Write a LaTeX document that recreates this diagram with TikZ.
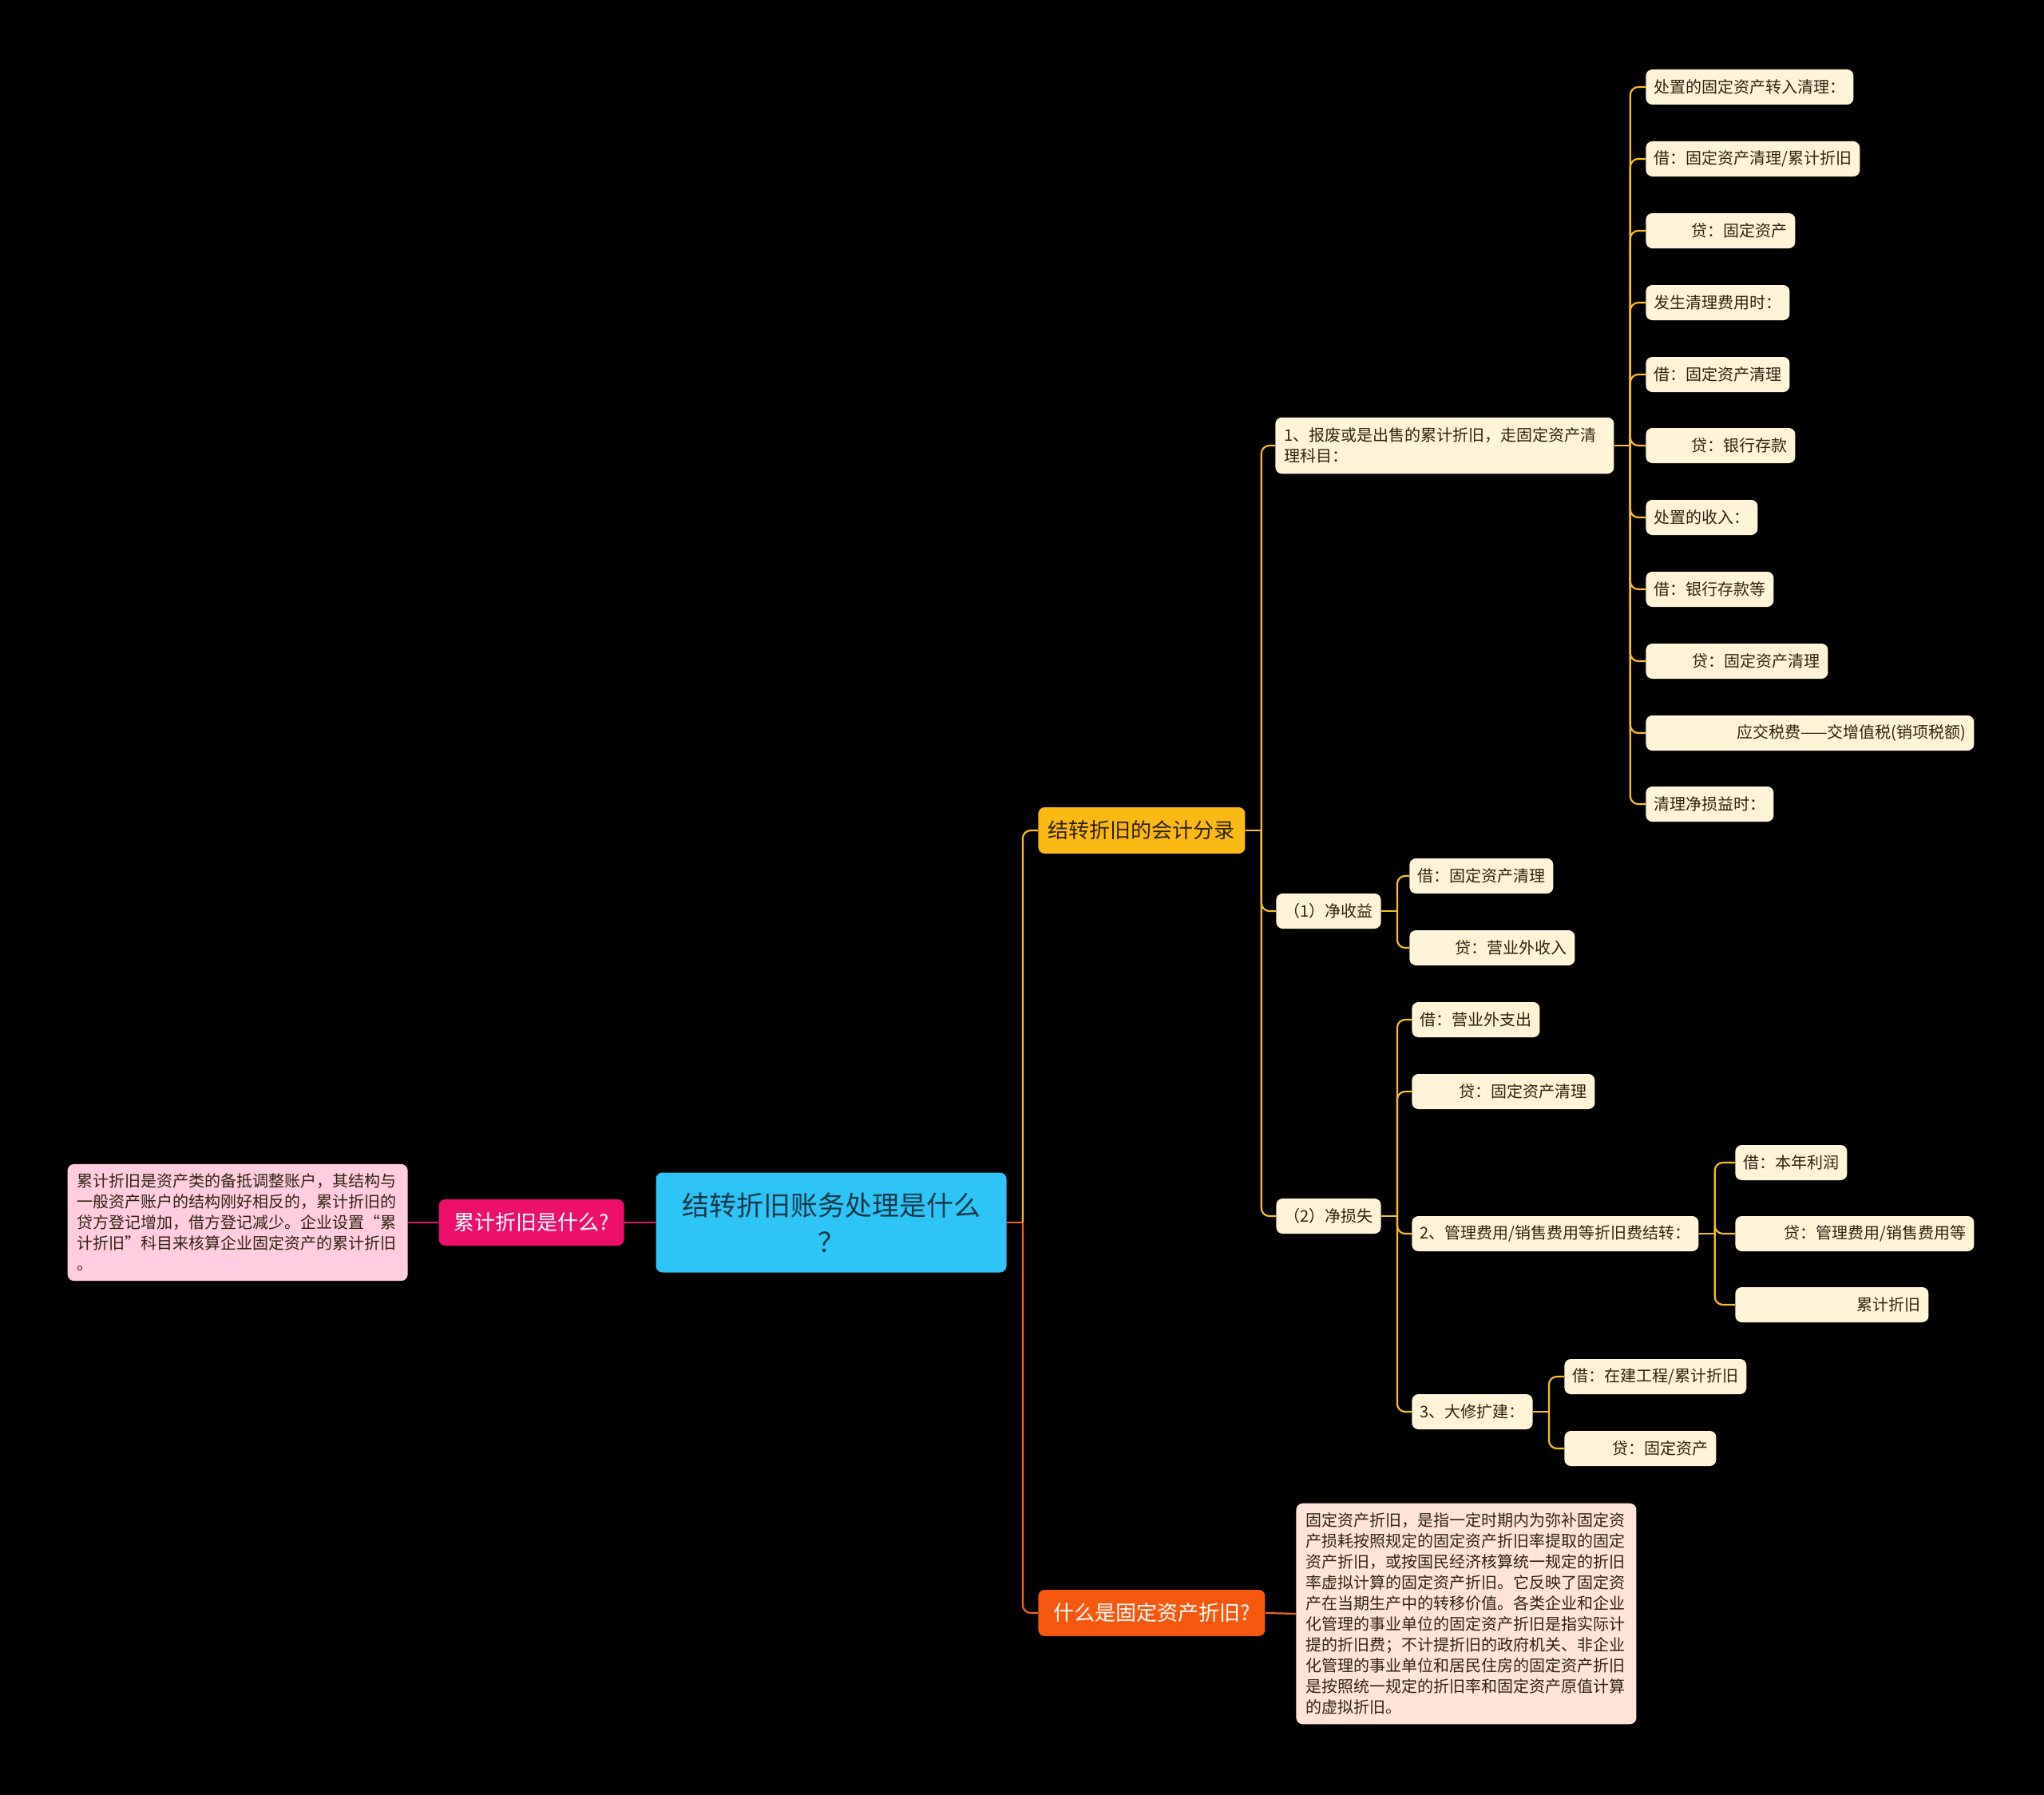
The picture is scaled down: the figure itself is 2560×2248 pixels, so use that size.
\documentclass[tikz,border=0pt]{standalone}
\usepackage{fontspec}
\setmainfont{Noto Sans CJK SC}
\usepackage{tikz}
\usetikzlibrary{positioning}
\definecolor{rootcyan}{RGB}{46,196,245}
\definecolor{rootink}{RGB}{24,57,74}
\definecolor{topicyellow}{RGB}{251,186,19}
\definecolor{topicorange}{RGB}{246,88,15}
\definecolor{topicmagenta}{RGB}{236,16,107}
\definecolor{leafcream}{RGB}{254,244,216}
\definecolor{notepink}{RGB}{255,204,224}
\definecolor{notepeach}{RGB}{254,228,216}
\definecolor{leafink}{RGB}{46,36,16}
\definecolor{lineyellow}{RGB}{246,192,38}
\definecolor{lineorange}{RGB}{240,102,31}
\definecolor{linepink}{RGB}{228,20,104}

\begin{document}
\begin{tikzpicture}[x=0.5pt, y=-0.5pt,
    every node/.style={inner ysep=2pt, rounded corners=4pt},
    rootbox/.style={fill=rootcyan, text=rootink, font=\fontsize{17pt}{23pt}\selectfont, align=center, minimum width=219.5pt, minimum height=62.5pt},
    topic/.style={font=\fontsize{13pt}{16pt}\selectfont, minimum height=29pt, inner xsep=6pt},
    leaf/.style={fill=leafcream, text=leafink, font=\fontsize{10pt}{13pt}\selectfont, minimum height=22pt, inner xsep=5pt, anchor=west},
    rleaf/.style={leaf, align=right, text width=#1},
    note/.style={text=leafink, font=\fontsize{10pt}{13pt}\selectfont, align=left, text width=201pt, inner xsep=6pt, inner ysep=6pt},
    ylink/.style={draw=lineyellow, line width=1.1pt, rounded corners=5pt},
    olink/.style={ylink, draw=lineorange},
    plink/.style={ylink, draw=linepink}]
    \useasboundingbox (0,0) rectangle (2560,2248);
    \fill[black] (0,0) rectangle (2560,2248);

    % Centre and main topics
    \node[rootbox] (root) at (1041,1531) {结转折旧账务处理是什么\\？};
    \node[topic, fill=topicmagenta, text=white, minimum width=116pt, anchor=east] (whatacc) at (782,1531) {累计折旧是什么?};
    \node[note, fill=notepink, anchor=east] (accnote) at (511,1531) {
        累计折旧是资产类的备抵调整账户，其结构与\\
        一般资产账户的结构刚好相反的，累计折旧的\\
        贷方登记增加，借方登记减少。企业设置“累\\
        计折旧”科目来核算企业固定资产的累计折旧\\
        。};
    \node[topic, fill=topicyellow, text=leafink, minimum width=129.5pt, anchor=west] (entries) at (1300,1040) {结转折旧的会计分录};
    \node[topic, fill=topicorange, text=white, minimum width=142pt, anchor=west] (whatfix) at (1300,2020) {什么是固定资产折旧?};
    \node[note, fill=notepeach, anchor=west] (fixnote) at (1623,2021) {
        固定资产折旧，是指一定时期内为弥补固定资\\
        产损耗按照规定的固定资产折旧率提取的固定\\
        资产折旧，或按国民经济核算统一规定的折旧\\
        率虚拟计算的固定资产折旧。它反映了固定资\\
        产在当期生产中的转移价值。各类企业和企业\\
        化管理的事业单位的固定资产折旧是指实际计\\
        提的折旧费；不计提折旧的政府机关、非企业\\
        化管理的事业单位和居民住房的固定资产折旧\\
        是按照统一规定的折旧率和固定资产原值计算\\
        的虚拟折旧。};

    % Entries
    \node[leaf, align=left, text width=201pt, inner xsep=5.5pt, inner ysep=6.5pt] (scrap) at (1597,558) {1、报废或是出售的累计折旧，走固定资产清\\理科目：};
    \node[leaf] (gain) at (1598,1141) {（1）净收益};
    \node[leaf] (loss) at (1598,1523) {（2）净损失};

    \node[leaf] (s1) at (2061,109) {处置的固定资产转入清理：};
    \node[leaf] (s2) at (2061,199) {借：固定资产清理/累计折旧};
    \node[rleaf=83.5pt] (s3) at (2061,289) {贷：固定资产};
    \node[leaf] (s4) at (2061,379) {发生清理费用时：};
    \node[leaf] (s5) at (2061,469) {借：固定资产清理};
    \node[rleaf=83.5pt] (s6) at (2061,558) {贷：银行存款};
    \node[leaf] (s7) at (2061,648) {处置的收入：};
    \node[leaf] (s8) at (2061,738) {借：银行存款等};
    \node[rleaf=104pt] (s9) at (2061,828) {贷：固定资产清理};
    \node[rleaf=195.5pt] (s10) at (2061,918) {应交税费——交增值税(销项税额)};
    \node[leaf] (s11) at (2061,1007) {清理净损益时：};

    \node[leaf] (g1) at (1765,1097) {借：固定资产清理};
    \node[rleaf=93.5pt] (g2) at (1765,1187) {贷：营业外收入};

    \node[leaf] (l1) at (1768,1277) {借：营业外支出};
    \node[rleaf=104.5pt] (l2) at (1768,1367) {贷：固定资产清理};
    \node[leaf] (l3) at (1768,1545) {2、管理费用/销售费用等折旧费结转：};
    \node[leaf] (l4) at (1768,1768) {3、大修扩建：};

    \node[leaf] (m1) at (2173,1456) {借：本年利润};
    \node[rleaf=139.5pt] (m2) at (2173,1545) {贷：管理费用/销售费用等};
    \node[rleaf=111pt] (m3) at (2173,1634) {累计折旧};

    \node[leaf] (r1) at (1959,1724) {借：在建工程/累计折旧};
    \node[rleaf=85pt] (r2) at (1959,1814) {贷：固定资产};

    % Links
    \coordinate (jroot) at ([xshift=10pt]root.east);
    \draw[olink] (root.east) -- (jroot);
    \draw[ylink] (jroot) |- (entries.west);
    \draw[olink] (jroot) |- (whatfix.west);
    \draw[plink] (root.west) -- (whatacc.east);
    \draw[plink] (whatacc.west) -- (accnote.east);
    \draw[olink] (whatfix.east) -- (fixnote.west);

    \coordinate (jentries) at ([xshift=10pt]entries.east);
    \draw[ylink] (entries.east) -- (jentries);
    \foreach \c in {scrap,gain,loss} \draw[ylink] (jentries) |- (\c.west);

    \coordinate (jscrap) at ([xshift=10pt]scrap.east);
    \draw[ylink] (scrap.east) -- (jscrap);
    \foreach \c in {s1,s2,s3,s4,s5,s6,s7,s8,s9,s10,s11} \draw[ylink] (jscrap) |- (\c.west);

    \coordinate (jgain) at ([xshift=10pt]gain.east);
    \draw[ylink] (gain.east) -- (jgain);
    \foreach \c in {g1,g2} \draw[ylink] (jgain) |- (\c.west);

    \coordinate (jloss) at ([xshift=10pt]loss.east);
    \draw[ylink] (loss.east) -- (jloss);
    \foreach \c in {l1,l2,l3,l4} \draw[ylink] (jloss) |- (\c.west);

    \coordinate (jsum) at ([xshift=10pt]l3.east);
    \draw[ylink] (l3.east) -- (jsum);
    \foreach \c in {m1,m2,m3} \draw[ylink] (jsum) |- (\c.west);

    \coordinate (jrepair) at ([xshift=10pt]l4.east);
    \draw[ylink] (l4.east) -- (jrepair);
    \foreach \c in {r1,r2} \draw[ylink] (jrepair) |- (\c.west);
\end{tikzpicture}
\end{document}
